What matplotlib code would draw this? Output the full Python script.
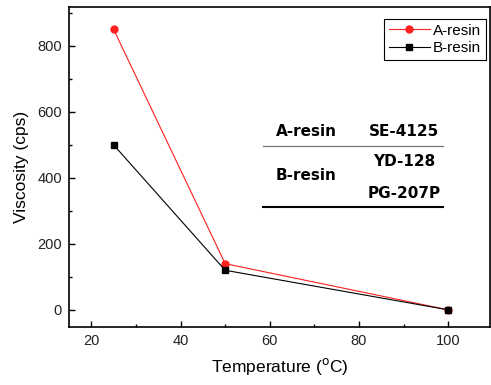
import matplotlib.pyplot as plt
from matplotlib.ticker import MultipleLocator

temperature = [25, 50, 100]
a_resin = [850, 140, 0]
b_resin = [500, 120, 0]

fig = plt.figure(figsize=(4.91, 3.85), dpi=100)
ax = fig.add_axes([0.1405, 0.1506, 0.857, 0.8314])
plt.rcParams['font.family'] = ['Liberation Sans', 'DejaVu Sans']

ax.plot(temperature, a_resin, color='#ff2020', lw=0.8, marker='o', ms=5, label='A-resin')
ax.plot(temperature, b_resin, color='black', lw=0.8, marker='s', ms=4.5, label='B-resin')

ax.set_xlim(15, 109.3)
ax.set_ylim(-52, 918)
ax.xaxis.set_major_locator(MultipleLocator(20))
ax.xaxis.set_minor_locator(MultipleLocator(10))
ax.yaxis.set_major_locator(MultipleLocator(200))
ax.yaxis.set_minor_locator(MultipleLocator(100))
ax.tick_params(which='both', direction='in', top=False, right=False, labelsize=10.5,
               colors='black', labelcolor='#222222')
ax.tick_params(which='major', length=4, width=1, pad=5)
ax.tick_params(which='minor', length=2.5, width=1)
for tl in ax.get_xticklabels() + ax.get_yticklabels():
    tl.set_family('Liberation Sans')
for s in ax.spines.values():
    s.set_linewidth(1.2)

ax.set_xlabel('Temperature ($^{\\mathrm{o}}$C)', fontsize=12.5, family='Liberation Sans', labelpad=6)
ax.set_ylabel('Viscosity (cps)', fontsize=12.5, family='Liberation Sans', labelpad=6)

leg = ax.legend(loc='upper right', bbox_to_anchor=(0.998, 0.972), fontsize=11, fancybox=False,
                edgecolor='black', framealpha=1, handlelength=2.7, borderpad=0.3,
                labelspacing=0.25, handletextpad=0.2, borderaxespad=0.2)
leg.get_frame().set_linewidth(0.8)
for t in leg.get_texts():
    t.set_family('Liberation Sans')

# inset table
tf = dict(fontsize=11, fontweight='bold', family='DejaVu Sans', transform=fig.transFigure,
          va='center')
W, H = 491, 385
ax.text(306 / W, 1 - 131 / H, 'A-resin', ha='center', **tf)
ax.text(404 / W, 1 - 131 / H, 'SE-4125', ha='center', **tf)
ax.text(306 / W, 1 - 176 / H, 'B-resin', ha='center', **tf)
ax.text(404 / W, 1 - 162 / H, 'YD-128', ha='center', **tf)
ax.text(404 / W, 1 - 194 / H, 'PG-207P', ha='center', **tf)
fig.add_artist(plt.Line2D([263 / W, 443 / W], [1 - 146 / H, 1 - 146 / H], color='#777777', lw=0.9))
fig.add_artist(plt.Line2D([263 / W, 443 / W], [1 - 207 / H, 1 - 207 / H], color='black', lw=1.5))

fig.savefig('out.png', dpi=100)
